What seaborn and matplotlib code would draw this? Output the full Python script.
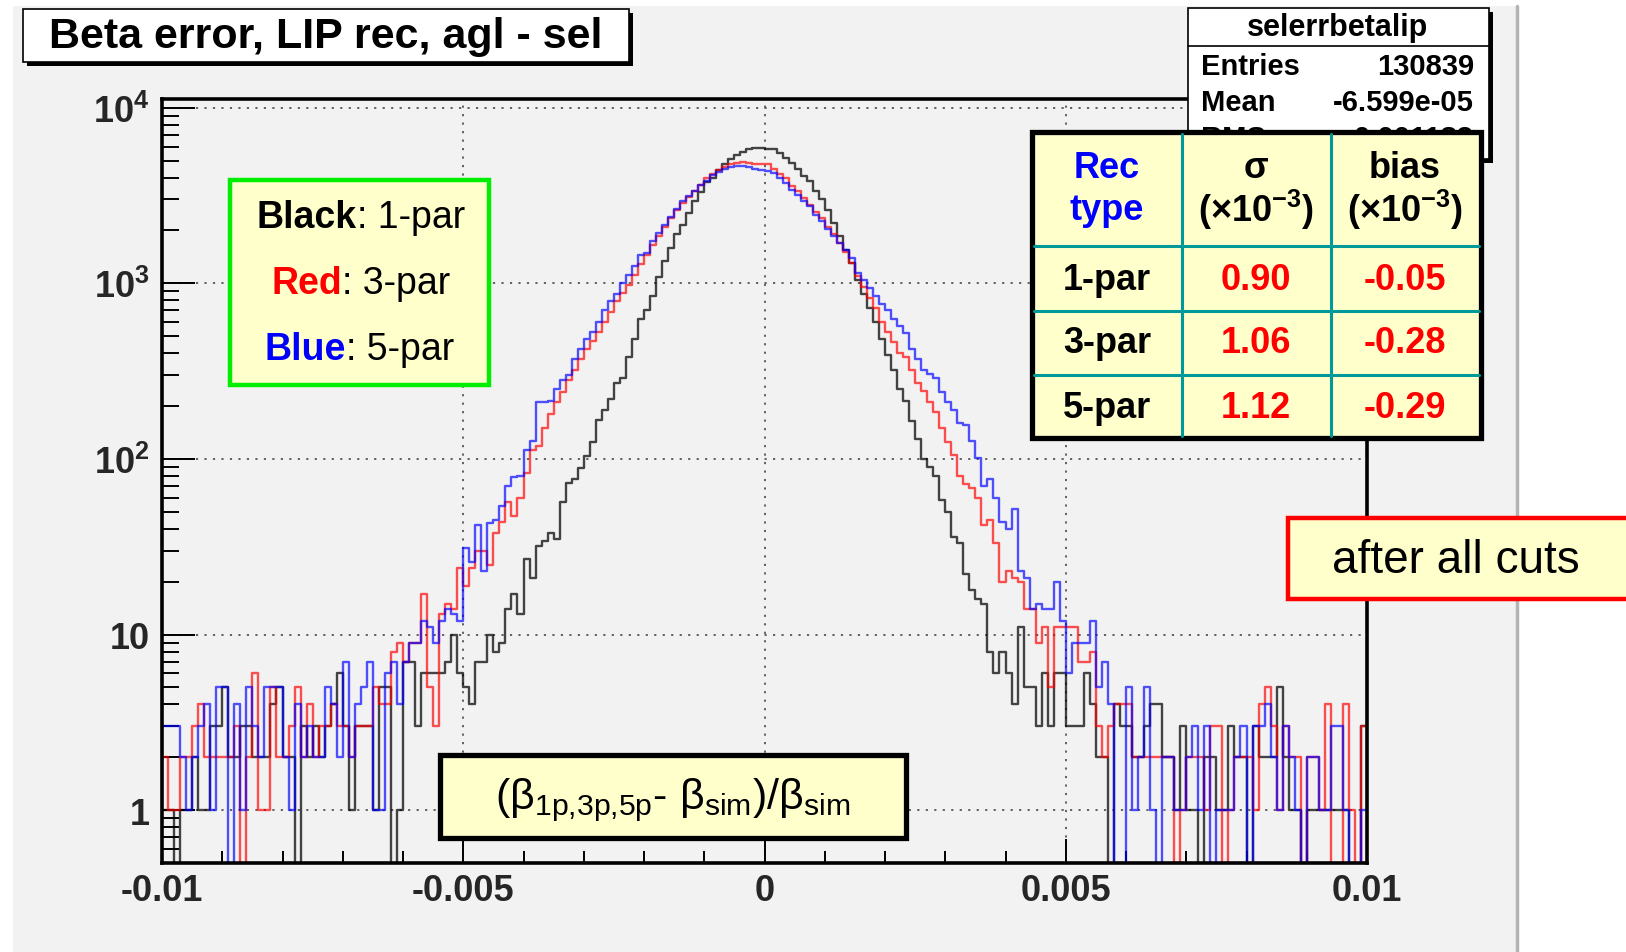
"""
Beta error histogram (LIP rec, agl - sel): 1-par / 3-par / 5-par reconstructions.
"""
import numpy as np
import pandas as pd
import matplotlib
matplotlib.use("Agg")
import matplotlib.pyplot as plt
import seaborn as sns
from matplotlib.patches import Rectangle
from matplotlib.lines import Line2D
from matplotlib.ticker import FixedLocator, FixedFormatter, MultipleLocator, LogLocator, NullFormatter

# counts per bin, 200 bins from -0.01 to 0.01
counts_1par = [
    1, 1, 0, 1, 1, 2, 1, 1, 3, 3,
    5, 2, 2, 3, 3, 2, 2, 2, 4, 5,
    2, 2, 0, 3, 2, 3, 2, 3, 4, 6,
    3, 1, 3, 3, 3, 1, 5, 5, 0, 1,
    7, 7, 3, 6, 6, 6, 6, 7, 10, 6,
    5, 4, 7, 7, 10, 8, 9, 14, 17, 13,
    27, 21, 32, 34, 38, 35, 57, 73, 77, 89,
    104, 124, 167, 190, 220, 270, 290, 380, 480, 630,
    700, 850, 1090, 1340, 1590, 1900, 2150, 2500, 2930, 3300,
    3770, 4000, 4400, 4800, 5100, 5400, 5600, 5800, 5900, 5900,
    5850, 5800, 5550, 5150, 4850, 4500, 4100, 3800, 3350, 3000,
    2600, 2200, 1850, 1550, 1300, 1050, 870, 720, 600, 480,
    390, 320, 250, 215, 165, 130, 100, 90, 80, 58,
    50, 36, 33, 22, 18, 16, 15, 8, 6, 8,
    6, 4, 11, 5, 5, 3, 6, 3, 6, 6,
    3, 3, 3, 6, 4, 2, 2, 0, 4, 3,
    3, 2, 2, 3, 4, 4, 2, 2, 1, 3,
    1, 1, 0, 2, 2, 1, 1, 3, 2, 2,
    0, 3, 2, 2, 2, 5, 2, 1, 1, 0,
    1, 1, 1, 1, 1, 1, 1, 0, 0, 3,
]
counts_3par = [
    2, 1, 1, 2, 2, 3, 4, 2, 2, 2,
    2, 2, 3, 0, 2, 6, 1, 1, 5, 2,
    2, 3, 5, 2, 4, 2, 3, 3, 4, 3,
    3, 2, 3, 3, 3, 5, 4, 4, 8, 9,
    7, 9, 9, 17, 5, 3, 13, 15, 14, 24,
    19, 24, 30, 30, 25, 38, 44, 57, 47, 60,
    83, 112, 118, 150, 180, 210, 240, 280, 320, 370,
    420, 470, 530, 600, 690, 790, 880, 980, 1120, 1280,
    1450, 1650, 1850, 2100, 2350, 2600, 2850, 3100, 3350, 3650,
    3950, 4200, 4400, 4600, 4750, 4850, 4900, 4850, 4800, 4750,
    4750, 4500, 4200, 3950, 3600, 3350, 3050, 2800, 2550, 2350,
    2100, 1900, 1700, 1500, 1300, 1100, 950, 820, 720, 600,
    530, 460, 400, 380, 320, 270, 245, 210, 185, 150,
    125, 105, 80, 72, 68, 60, 42, 45, 33, 20,
    23, 21, 20, 14, 14, 9, 11, 5, 11, 11,
    11, 11, 7, 7, 8, 3, 2, 3, 4, 4,
    4, 2, 2, 2, 2, 2, 2, 2, 0, 1,
    2, 2, 2, 1, 3, 3, 0, 1, 2, 2,
    2, 1, 4, 5, 3, 1, 3, 2, 2, 0,
    2, 2, 1, 4, 0, 0, 4, 1, 0, 3,
]
counts_5par = [
    3, 3, 3, 2, 1, 2, 3, 4, 1, 5,
    5, 0, 4, 1, 5, 3, 2, 5, 5, 5,
    2, 1, 4, 2, 3, 2, 2, 5, 4, 2,
    7, 2, 4, 5, 7, 1, 1, 6, 7, 4,
    7, 9, 9, 12, 11, 9, 12, 14, 13, 12,
    31, 26, 42, 23, 43, 45, 54, 70, 79, 80,
    112, 127, 210, 210, 215, 250, 280, 300, 370, 420,
    480, 530, 600, 700, 790, 870, 1010, 1110, 1260, 1440,
    1480, 1750, 1940, 2150, 2370, 2640, 2930, 3120, 3370, 3650,
    3840, 4140, 4300, 4460, 4570, 4680, 4680, 4570, 4460, 4400,
    4350, 4250, 4000, 3700, 3400, 3200, 2930, 2750, 2450, 2250,
    2050, 1850, 1700, 1550, 1400, 1150, 1040, 940, 850, 760,
    700, 630, 570, 520, 420, 370, 320, 305, 290, 240,
    210, 190, 160, 155, 127, 101, 70, 77, 60, 44,
    40, 52, 23, 21, 14, 15, 14, 14, 20, 12,
    6, 9, 9, 9, 12, 5, 7, 4, 0, 0,
    5, 1, 2, 5, 1, 0, 2, 2, 1, 1,
    2, 3, 1, 3, 0, 1, 1, 1, 2, 3,
    0, 3, 3, 4, 2, 1, 3, 2, 1, 0,
    2, 2, 1, 1, 3, 3, 1, 0, 0, 1,
]

rec_names = ["1-par", "3-par", "5-par"]
sigma_vals = ["0.90", "1.06", "1.12"]
bias_vals = ["-0.05", "-0.28", "-0.29"]
stats_name = "selerrbetalip"
stats_entries = "130839"
stats_mean = "-6.599e-05"
stats_rms = "0.001183"

x_range = (-0.01, 0.01)
x_ticks = [-0.01, -0.005, 0, 0.005, 0.01]
x_ticklabels = ["-0.01", "-0.005", "0", "0.005", "0.01"]
y_ticks = [1, 10, 100, 1000, 10000]
y_ticklabels = ["1", "10", r"$\mathbf{10^{2}}$", r"$\mathbf{10^{3}}$", r"$\mathbf{10^{4}}$"]

# ---------------------------------------------------------------
sns.set_style("ticks")
plt.rcParams["font.family"] = ["Liberation Sans", "DejaVu Sans"]
plt.rcParams["mathtext.fontset"] = "custom"
plt.rcParams["mathtext.rm"] = "Liberation Sans"
plt.rcParams["mathtext.bf"] = "Liberation Sans:bold"
plt.rcParams["mathtext.it"] = "Liberation Sans:italic"

W, H = 1626, 953
PAD_GREY = "#f2f2f2"
YELLOW = "#ffffcc"


def fx(px):
    return px / W


def fy(py):
    return 1 - py / H


fig = plt.figure(figsize=(W / 100, H / 100), dpi=100, facecolor="white")
fig.patches.append(Rectangle((fx(13), 0), fx(1516) - fx(13), fy(7), transform=fig.transFigure,
                             facecolor=PAD_GREY, edgecolor="none", zorder=-5))
fig.lines.append(Line2D([fx(1517), fx(1517)], [0, fy(7)], transform=fig.transFigure,
                        color="#b4b4b4", linewidth=2.5, zorder=-4))

ax = fig.add_axes([fx(162), fy(864), fx(1367) - fx(162), fy(100) - fy(864)])
ax.set_facecolor(PAD_GREY)

# long table for seaborn
nbins = len(counts_1par)
edges = np.linspace(x_range[0], x_range[1], nbins + 1)
centers = 0.5 * (edges[:-1] + edges[1:])
df = pd.concat([
    pd.DataFrame({"x": centers, "count": counts_1par, "rec": "1-par"}),
    pd.DataFrame({"x": centers, "count": counts_3par, "rec": "3-par"}),
    pd.DataFrame({"x": centers, "count": counts_5par, "rec": "5-par"}),
], ignore_index=True)

styles = {"1-par": ("#000000", 0.72), "3-par": ("#ff0000", 0.68), "5-par": ("#0000ff", 0.68)}
for rec in rec_names:
    color, alpha = styles[rec]
    sns.histplot(data=df[df["rec"] == rec], x="x", weights="count", bins=nbins,
                 binrange=x_range, element="step", fill=False, color=color,
                 alpha=alpha, linewidth=1.7, ax=ax)

ax.set_yscale("log")
ax.set_xlim(*x_range)
ax.set_ylim(0.5, 1.12e4)
ax.set_xlabel("")
ax.set_ylabel("")

ax.xaxis.set_major_locator(FixedLocator(x_ticks))
ax.xaxis.set_major_formatter(FixedFormatter(x_ticklabels))
ax.xaxis.set_minor_locator(MultipleLocator(0.001))
ax.yaxis.set_major_locator(FixedLocator(y_ticks))
ax.yaxis.set_major_formatter(FixedFormatter(y_ticklabels))
ax.yaxis.set_minor_locator(LogLocator(base=10, subs=np.arange(2, 10) * 1.0, numticks=20))
ax.yaxis.set_minor_formatter(NullFormatter())

ax.tick_params(which="both", direction="in", top=False, right=False, width=1.4, color="black")
ax.tick_params(axis="x", which="major", length=17, labelsize=26, pad=7)
ax.tick_params(axis="x", which="minor", length=9)
ax.tick_params(axis="y", which="major", length=24, labelsize=26, pad=9)
ax.tick_params(axis="y", which="minor", length=12)
for lbl in ax.get_xticklabels() + ax.get_yticklabels():
    lbl.set_fontweight("bold")

ax.grid(True, which="major", linestyle=(0, (1.2, 3.5)), color="#555555", linewidth=1.3)
for sp in ax.spines.values():
    sp.set_linewidth(2.6)
    sp.set_color("black")


# ---------------------------------------------------------------
def box(x0, y0, x1, y1, face, edge, lw, shadow=0, z=5):
    if shadow:
        fig.patches.append(Rectangle((fx(x0 + shadow), fy(y1 + shadow)), fx(x1) - fx(x0), fy(y0) - fy(y1),
                                     transform=fig.transFigure, facecolor="black",
                                     edgecolor="none", zorder=z - 0.1))
    fig.patches.append(Rectangle((fx(x0), fy(y1)), fx(x1) - fx(x0), fy(y0) - fy(y1),
                                 transform=fig.transFigure, facecolor=face, edgecolor=edge,
                                 linewidth=lw, zorder=z))


def txt(x, y, s, size, color="black", weight="bold", ha="center", z=10):
    fig.text(fx(x), fy(y), s, fontsize=size, color=color, fontweight=weight,
             ha=ha, va="center", zorder=z)


# title
box(23, 10, 629, 63, "white", "black", 1.2, shadow=4)
txt(326, 37, "Beta error, LIP rec, agl - sel", 31)

# stats box (partly hidden by the table)
box(1188, 9, 1489, 160, "white", "black", 1.2, shadow=4, z=4)
fig.lines.append(Line2D([fx(1188), fx(1489)], [fy(47), fy(47)], transform=fig.transFigure,
                        color="black", linewidth=1.2, zorder=4.5))
txt(1338, 28, stats_name, 22, z=4.6)
txt(1201, 67, "Entries", 21, ha="left", z=4.6)
txt(1474, 67, stats_entries, 21, ha="right", z=4.6)
txt(1201, 103, "Mean", 21, ha="left", z=4.6)
txt(1474, 103, stats_mean, 21, ha="right", z=4.6)
txt(1201, 139, "RMS", 21, ha="left", z=4.6)
txt(1474, 139, stats_rms, 21, ha="right", z=4.6)

# results table
TEAL = "#009999"
box(1032, 133, 1481, 439, YELLOW, "black", 3.8, z=6)
for xv in [1182, 1331]:
    fig.lines.append(Line2D([fx(xv), fx(xv)], [fy(135), fy(437)], transform=fig.transFigure,
                            color=TEAL, linewidth=2.2, zorder=6.5))
for yv in [247, 312, 376]:
    fig.lines.append(Line2D([fx(1034), fx(1479)], [fy(yv), fy(yv)], transform=fig.transFigure,
                            color=TEAL, linewidth=2.2, zorder=6.5))
txt(1107, 168, "Rec", 26, color="#0000ff")
txt(1107, 210, "type", 26, color="#0000ff")
txt(1256, 168, "σ", 26)
txt(1256, 210, r"(×10$^{\mathregular{-3}}$)", 26)
txt(1405, 168, "bias", 26)
txt(1405, 210, r"(×10$^{\mathregular{-3}}$)", 26)
for i, (rname, sg, bs) in enumerate(zip(rec_names, sigma_vals, bias_vals)):
    yrow = 280 + 64 * i
    txt(1107, yrow, rname, 26)
    txt(1256, yrow, sg, 26, color="#ff0000")
    txt(1405, yrow, bs, 26, color="#ff0000")

# colour legend box
box(230, 181, 489, 386, YELLOW, "#00ee00", 3.2, z=6)
legend_rows = [("Black", "#000000", ": 1-par", 357, 218),
               ("Red", "#ff0000", ": 3-par", 342, 284),
               ("Blue", "#0000ff", ": 5-par", 346, 350)]
for word, col, rest, xs, yl in legend_rows:
    txt(xs, yl, word, 27, color=col, ha="right")
    txt(xs, yl, rest, 27, weight="normal", ha="left")

# x-axis quantity box
box(440, 756, 906, 839, YELLOW, "black", 3.8, z=6)
txt(673, 800, r"(β$_{\mathregular{1p{,}3p{,}5p}}$- β$_{\mathregular{sim}}$)/β$_{\mathregular{sim}}$", 31,
    weight="normal")

# "after all cuts" box
box(1288, 519, 1640, 600, YELLOW, "#ff0000", 3.2, z=6)
txt(1456, 561, "after all cuts", 33, weight="normal")

fig.savefig("out.png", dpi=100, facecolor=fig.get_facecolor())
